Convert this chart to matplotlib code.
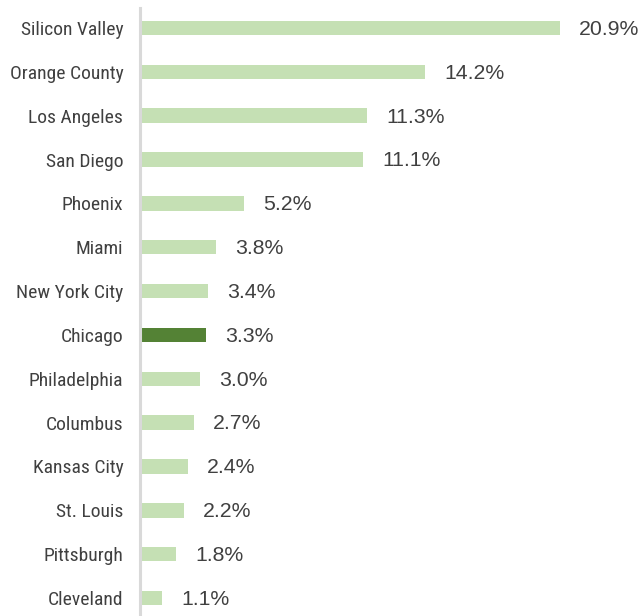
import matplotlib.pyplot as plt
from matplotlib import font_manager

cities = ["Silicon Valley", "Orange County", "Los Angeles", "San Diego", "Phoenix",
          "Miami", "New York City", "Chicago", "Philadelphia", "Columbus",
          "Kansas City", "St. Louis", "Pittsburgh", "Cleveland"]
values = [20.9, 14.2, 11.3, 11.1, 5.2, 3.8, 3.4, 3.3, 3.0, 2.7, 2.4, 2.2, 1.8, 1.1]
highlight = "Chicago"

names = {f.name for f in font_manager.fontManager.ttflist}
narrow = "DejaVu Sans"
for cand in ["Roboto Condensed", "Archivo Narrow", "PT Sans Narrow", "Liberation Sans"]:
    if cand in names:
        narrow = cand
        break

fig = plt.figure(figsize=(6.42, 6.16), dpi=100)
ax = fig.add_axes([140 / 642, 0, 1 - 140 / 642, 608 / 616])

colors = ["#548235" if c == highlight else "#C5E0B4" for c in cities]
ypos = list(range(len(cities)))
ax.barh(ypos, values, height=0.33, color=colors)

for y, v in zip(ypos, values):
    ax.text(v + 0.95, y + 0.03, f"{v:.1f}%", va="center", ha="left", fontsize=15.3,
            color="#404040", family=["Liberation Sans", "DejaVu Sans"])

ax.set_yticks(ypos)
ax.set_yticklabels(cities, family=narrow, fontsize=14, color="#404040")
ax.tick_params(axis="y", length=0, pad=12)
ax.set_xticks([])
ax.set_xlim(0, 25)
ax.set_ylim(13.41, -0.456)
for s in ["top", "right", "bottom"]:
    ax.spines[s].set_visible(False)
ax.spines["left"].set_color("#D9D9D9")
ax.spines["left"].set_linewidth(2.2)

fig.savefig("out.png", dpi=100)
